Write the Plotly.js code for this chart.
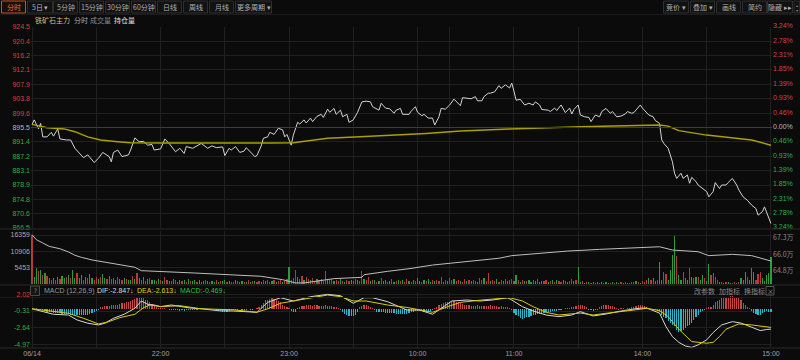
<!DOCTYPE html>
<html><head><meta charset="utf-8">
<script src="https://cdn.plot.ly/plotly-3.0.1.min.js"></script>
<style>html,body{margin:0;padding:0;background:#0b0b0b;}#chart{width:800px;height:360px;}</style>
</head><body><div id="chart"></div>
<script>
// ---------- data ----------
const prevSettle = 895.5;
const priceTicks = [924.5,920.4,916.2,912.1,907.9,903.8,899.6,895.5,891.4,887.2,883.1,878.9,874.8,870.6,866.5];
const pctTicks = ['3.24%','2.78%','2.31%','1.85%','1.39%','0.93%','0.46%','0.00%','0.46%','0.93%','1.39%','1.85%','2.31%','2.78%','3.24%'];
const timeTickMin = [0,30,60,90,120,150,180,195,225,255,285,315,345];
const timeTickText = ['06/14','','22:00','','23:00','','10:00','','11:00','','14:00','','15:00'];

const priceMin = [0,1,3,4,5,7,9,10,12,13,16,18,20,22,24,26,29,31,33,36,37,38,40,42,45,46,48,50,52,54,56,57,60,62,64,67,69,71,72,75,77,79,82,84,86,89,90,92,93,95,97,99,100,102,104,105,107,108,110,111,113,115,117,118,119,121,122,124,125,127,128,130,131,133,135,136,138,139,141,142,144,145,147,148,150,152,154,156,158,159,162,163,165,167,169,170,172,173,176,177,179,180,182,183,185,187,188,190,191,193,195,197,198,200,201,203,205,207,208,210,211,213,214,216,218,219,221,223,224,225,226,228,229,230,232,234,235,237,238,241,242,244,245,247,249,251,252,253,255,256,258,260,261,263,265,266,268,270,271,273,275,277,278,280,281,282,284,285,287,288,290,291,293,294,295,297,298,299,300,301,303,304,306,307,308,310,311,313,315,316,318,319,321,322,324,325,327,329,330,332,334,336,338,339,341,342,344,345];
const price = [896.4,897.7,895.1,896.7,892.8,892.8,894.1,893.0,895.1,892.2,891.9,891.9,889.5,888.0,886.8,887.6,885.4,886.6,888.3,887.1,885.6,888.3,889.0,887.1,887.6,889.0,892.5,891.4,891.5,890.4,890.6,889.0,889.3,892.2,890.9,888.5,889.5,888.0,890.0,889.5,890.2,890.9,889.5,890.2,889.7,889.9,887.4,889.5,889.0,890.0,888.3,888.7,889.7,888.5,887.1,887.4,890.2,892.4,892.8,894.1,893.5,895.3,894.8,892.8,893.5,890.4,893.3,897.0,896.5,897.7,896.8,898.2,897.2,898.7,899.3,898.4,900.8,899.9,901.0,899.3,900.5,898.6,899.3,897.0,897.7,899.9,902.9,903.1,902.9,901.5,900.5,902.5,901.1,900.9,899.6,900.5,901.0,899.3,899.3,900.2,901.5,899.9,898.9,899.3,898.2,898.2,896.2,898.6,901.0,900.8,902.0,903.7,903.0,901.8,904.1,903.9,903.8,904.4,903.2,903.2,904.4,905.4,905.4,905.8,907.6,906.8,907.8,906.9,908.3,906.0,903.4,903.6,902.9,902.0,902.5,902.0,902.9,902.0,900.7,900.5,900.1,901.1,900.4,902.0,899.8,901.1,899.4,900.7,902.0,899.1,898.6,898.4,897.2,899.1,898.6,900.1,901.0,899.6,900.1,898.6,898.8,899.4,900.1,899.6,899.8,900.5,902.0,901.1,899.6,899.1,898.6,897.5,896.7,891.9,890.9,889.5,887.6,885.6,882.3,880.8,882.3,880.8,881.8,879.4,881.1,879.9,878.9,877.9,877.0,875.5,877.0,879.6,877.9,878.9,878.9,879.6,880.8,878.9,877.5,875.5,874.5,873.1,872.1,870.2,871.2,872.6,869.7,867.8];

const avgMin = [0,7,15,20,26,32,40,46,62,100,105,111,122,138,153,169,184,200,218,223,256,293,297,302,315,327,336,345];
const avgPrice = [896.4,895.4,895.1,894.3,892.8,891.9,891.4,891.1,891.0,891.0,890.8,891.0,891.1,892.4,892.8,893.3,893.8,894.5,895.0,895.1,895.7,896.2,895.9,894.6,893.3,892.4,891.9,890.4];

const volume = [16359,2500,5340,4230,4790,3100,3670,2560,2000,1450,
2000,1200,2300,1700,2800,1900,2500,3100,2000,4800,
2000,3700,2000,3100,1500,2500,2000,3300,2100,1500,
2300,1700,2200,3400,1900,1600,2800,1800,2000,1500,
2500,1800,1300,2000,1700,1500,1200,2600,1700,3800,
2000,1300,2500,1000,1600,1900,1200,1400,900,1700,
1300,1000,2400,1500,1100,900,1600,1200,800,1400,
1000,1300,700,1800,900,1100,1500,800,1200,700,
1000,1400,900,600,1100,800,1300,700,900,1000,
1500,700,1100,800,600,1200,900,700,1000,600,
800,1300,700,900,1100,600,1000,800,1500,900,
1200,700,900,1400,800,1000,1300,700,1100,1600,
5800,1500,2000,4600,2500,1800,2800,1500,2200,1800,
1300,2000,1000,1600,1200,1800,1100,4300,1500,1200,
1800,1000,1400,900,1600,1100,800,1300,1000,1500,
900,1700,1200,1000,4300,1600,1300,2200,900,1200,
1400,800,1100,2000,900,1300,700,1000,1800,800,
1100,1500,900,1200,700,1600,1000,800,1300,900,
1900,1100,800,1400,1000,1700,700,1200,900,1500,
1000,2200,800,1300,1100,2000,1200,1600,900,1400,
1100,800,1700,1000,1300,900,1500,1100,800,1900,
1200,1900,1000,3600,900,1300,1100,1700,800,1400,
1000,1600,900,1200,1800,1000,3000,1300,800,1500,
1100,900,1400,700,1200,1000,1600,800,1100,900,
1300,700,1000,1500,800,1200,900,700,1400,1000,
800,1100,1800,900,1200,5800,700,900,500,800,
600,400,700,500,800,450,600,350,700,500,
400,650,500,750,350,600,450,800,500,400,
700,550,900,600,450,1100,700,1500,1900,1200,
1900,900,1200,7250,1500,4100,3200,1300,4700,9700,
16000,9450,3000,1500,4100,2000,1200,5200,2500,2000,
2500,2300,1200,3000,1900,1000,6600,3000,3700,2500,
1200,800,600,500,700,600,400,500,600,450,
700,1900,1200,4100,2500,1500,5200,4100,1500,3200,
4100,1900,1000,3000,3600,9100];
const volSide = ("rggrgrgrgr"+"grgrggrgrg"+"grggrgrggr"+"rgrggrgrgg"+"rgrgrggrgr"+"grgrgrggrg"+"rgrrgrgrgg"+"rgrgrggrgr"+"grgrggrgrg"+"grgrrgrggr"+
"grgrgrrgrg"+"rrgrgrrgrr"+"grrrgrrgrr"+"grrgrgrrgr"+"rgrrgrgrrg"+"grgrrgrrgr"+"grgrggrgrg"+"rgrgrrgrgr"+"ggrgrggrgr"+"rrgrgrrgrr"+
"grrgrgrrgr"+"rgrrgrrgrr"+"grgrrggrgr"+"grggrgrggr"+"rgrgrgrrgr"+"grrgrggrgr"+"grgrgrgrgg"+"rgrgrrgrgr"+"rrgrgrrrgr"+"ggrggrrggg"+
"grggrggrgr"+"grggrggrrr"+"rgrgrggrrg"+"rgggrgggrr"+"rggggg").split('');

const oiMin = [0,2,5,8,13,17,20,23,28,34,42,48,51,61,76,92,107,117,123,127,135,141,154,155,166,176,187,218,224,250,265,280,293,299,311,316,327,336,341,345];
const openInterest = [67.32,66.94,66.69,66.43,66.25,66.0,65.75,65.59,65.39,65.23,65.03,64.83,64.57,64.52,64.39,64.26,64.14,63.88,63.63,63.63,63.80,63.96,64.06,64.26,64.52,64.72,65.0,65.52,65.72,66.07,66.2,66.28,66.40,66.15,66.02,65.72,65.82,65.72,65.52,65.31];
const volTicks = [5453,10906,16359];
const oiTicks = [64.8,66.0,67.3];

const difMin = [0,7,10,17,21,26,31,34,38,43,48,51,54,57,60,65,69,74,79,88,94,105,110,116,122,130,138,144,150,155,159,166,175,181,187,192,196,203,209,215,222,224,229,234,240,246,252,256,262,268,276,284,287,293,296,299,302,305,308,311,315,318,322,327,331,336,340,343,345];
const dif = [0,-0.49,-0.77,-0.87,-1.56,-2.02,-2.26,-2.02,-1.33,-0.77,0.07,1.09,0.63,0.53,0.3,0.53,0.3,0.1,0,-0.3,-0.31,-0.49,0.9,1.55,1.09,1.69,2.02,1.83,0.77,1.55,1.55,0.99,-0.17,-0.17,-0.77,0.29,1.09,1.23,1.09,1.23,1.55,1.23,0.29,-0.31,-0.87,-1.1,-0.87,-0.4,-1.0,-0.73,-0.26,0.1,0.1,-0.6,-2.5,-3.9,-4.7,-5.2,-5.4,-5.05,-4.35,-3.33,-2.26,-1.8,-2.0,-2.58,-3.05,-2.9,-2.85];
const deaMin = [0,9,17,24,31,35,41,48,52,55,60,69,79,94,105,110,116,122,130,138,144,150,156,166,175,187,194,200,210,223,229,234,240,246,256,262,268,276,284,287,293,297,302,308,315,318,321,324,330,336,343,345];
const dea = [0,-0.31,-0.63,-1.33,-2.12,-1.88,-1.24,-0.77,0.15,0.53,0.3,0.43,0,-0.14,-0.49,0,0.77,1.09,1.55,1.93,1.7,1.09,1.09,0.53,0.19,-0.49,0.29,0.9,1.23,1.55,1.09,0.29,-0.49,-0.87,-0.6,-0.87,-0.63,-0.4,-0.07,0.07,-0.26,-1.1,-2.86,-4.59,-4.82,-4.7,-3.89,-2.86,-2.12,-2.26,-2.58,-2.61];
const macdHist = [0,-0.05,0.05,-0.08,-0.1,-0.15,-0.3,-0.38,-0.45,-0.5,
-0.55,-0.58,-0.6,-0.65,-0.7,-0.72,-0.75,-0.78,-0.8,-0.82,
-0.85,-0.88,-0.9,-0.88,-0.85,-0.83,-0.8,-0.7,-0.6,-0.45,
-0.3,-0.1,0.2,0.28,0.35,0.4,0.45,0.5,0.55,0.58,
0.6,0.68,0.75,0.82,0.9,1.0,1.1,1.2,1.35,1.45,
1.55,1.5,1.45,1.3,1.2,0.95,0.7,0.5,0.25,0.1,
0.15,0.1,0.05,-0.05,-0.1,-0.15,-0.2,-0.18,-0.22,-0.25,
-0.2,-0.25,-0.22,-0.18,-0.2,-0.15,-0.12,-0.1,-0.08,-0.05,
-0.05,0.03,-0.04,-0.05,-0.06,-0.05,-0.1,-0.2,-0.35,-0.45,
-0.45,-0.4,-0.3,-0.15,-0.1,-0.12,-0.1,-0.08,-0.1,-0.12,
-0.1,-0.08,-0.1,-0.12,-0.05,0.05,0.3,0.55,0.8,1.2,
1.3,1.4,1.5,1.35,1.2,1.05,0.9,0.55,0.4,0.25,
0.05,-0.3,-0.45,-0.4,0.1,0.3,0.4,0.45,0.5,0.55,
0.5,0.45,0.5,0.55,0.45,0.4,0.45,0.5,0.4,0.35,
0.4,0.3,0.2,0.1,-0.2,-0.5,-0.7,-0.85,-0.95,-1.05,
-0.95,-0.85,-0.5,0.2,0.45,0.55,0.5,0.45,0.3,0.1,
-0.2,-0.4,-0.45,-0.5,-0.45,-0.55,-0.6,-0.55,-0.6,-0.65,
-0.7,-0.75,-0.7,-0.72,-0.75,-0.7,-0.6,-0.5,-0.4,-0.3,
-0.25,-0.3,-0.35,-0.4,-0.45,-0.4,-0.3,-0.15,0.1,0.3,
0.5,0.7,0.8,0.9,0.95,1.0,1.05,1.1,1.0,0.9,
0.8,0.7,0.6,0.55,0.5,0.45,0.4,0.45,0.5,0.45,
0.4,0.35,0.4,0.45,0.5,0.45,0.4,0.35,0.3,0.35,
0.3,0.25,0.2,0.1,-0.2,-0.6,-0.85,-1.05,-1.25,-1.4,
-1.3,-1.2,-1.1,-1.0,-0.9,-0.8,-0.75,-0.7,-0.6,-0.55,
-0.5,-0.45,-0.4,-0.35,-0.3,-0.25,-0.2,-0.1,-0.05,0.1,
0.15,0.1,0.2,0.3,0.4,0.55,0.55,0.5,0.45,0.3,
-0.1,-0.2,-0.25,-0.2,-0.1,0.2,0.4,0.5,0.55,0.5,
0.45,0.4,0.3,0.1,-0.1,0.05,0.1,-0.05,0.1,0.15,
0.2,0.3,0.4,0.5,0.55,0.5,0.4,0.2,0.05,-0.05,
-0.1,-0.2,-0.3,-0.5,-0.84,-1.1,-1.3,-1.77,-2.0,-2.2,
-2.47,-2.9,-3.3,-3.1,-3.0,-2.7,-2.47,-2.2,-2.0,-1.53,
-1.2,-0.84,-0.5,-0.25,-0.1,0.1,0.2,0.25,0.6,1.0,
1.15,1.3,1.5,1.55,1.6,1.7,1.75,1.8,1.7,1.6,
1.5,1.2,0.8,0.5,0.2,0.05,-0.3,-0.6,-0.75,-0.84,
-0.8,-0.6,-0.45,-0.37,-0.4,-0.47];
const macdTicks = [2.02,-0.31,-2.64,-4.97];

// ---------- helpers ----------
const W = 800, H = 360, L = 31, R = 28;
const PX = px => (px - L) / (W - L - R);
const PY = py => 1 - py / H;
const RED = '#d8403c', GRN = '#2fae45', GRAY = '#b8b8b8';
const span = (t, c) => '<span style="color:' + c + '">' + t + '</span>';
const priceColor = v => v > prevSettle ? RED : (v < prevSettle ? GRN : GRAY);
const minutes = volume.map((_, i) => i);

const traces = [
  {x: priceMin, y: price, type: 'scatter', mode: 'lines', xaxis: 'x', yaxis: 'y',
   line: {color: '#d4d4d4', width: 1}, hoverinfo: 'skip'},
  {x: avgMin, y: avgPrice, type: 'scatter', mode: 'lines', xaxis: 'x', yaxis: 'y',
   line: {color: '#aba000', width: 1.5}, hoverinfo: 'skip'},
  {x: avgMin, y: avgPrice, type: 'scatter', mode: 'lines', xaxis: 'x', yaxis: 'y4',
   line: {color: 'rgba(0,0,0,0)', width: 0}, hoverinfo: 'skip'},
  {x: minutes, y: volume, type: 'bar', xaxis: 'x', yaxis: 'y2', width: 0.55,
   marker: {color: volSide.map(s => s === 'r' ? '#b53a3a' : '#2a9c3c'), line: {width: 0}}, hoverinfo: 'skip'},
  {x: oiMin, y: openInterest, type: 'scatter', mode: 'lines', xaxis: 'x', yaxis: 'y5',
   line: {color: '#bdbdbd', width: 1}, hoverinfo: 'skip'},
  {x: minutes, y: macdHist, type: 'bar', xaxis: 'x', yaxis: 'y3', width: 0.55,
   marker: {color: macdHist.map(v => v >= 0 ? '#c44646' : '#26b6c6'), line: {width: 0}}, hoverinfo: 'skip'},
  {x: difMin, y: dif, type: 'scatter', mode: 'lines', xaxis: 'x', yaxis: 'y3',
   line: {color: '#d6d6d6', width: 1}, hoverinfo: 'skip'},
  {x: deaMin, y: dea, type: 'scatter', mode: 'lines', xaxis: 'x', yaxis: 'y3',
   line: {color: '#d8cc10', width: 1}, hoverinfo: 'skip'}
];

const GRID = '#202020';
const tickFont = {size: 7, color: '#999', family: 'Liberation Sans, Arial, sans-serif'};
const volTop = 231, volBase = 284;
const layout = {
  width: W, height: H, showlegend: false,
  paper_bgcolor: '#0b0b0b', plot_bgcolor: '#0b0b0b',
  margin: {l: L, r: R, t: 0, b: 0, pad: 0},
  font: {family: 'Noto Sans CJK SC, Liberation Sans, sans-serif', size: 7, color: '#999'},
  bargap: 0,
  xaxis: {range: [-0.5, 345.5], anchor: 'y3', tickvals: timeTickMin, ticktext: timeTickText,
    showgrid: true, gridcolor: GRID, gridwidth: 1, zeroline: false, showline: false, ticks: '',
    tickfont: {size: 7, color: '#a0a0a0', family: 'Liberation Sans, Arial, sans-serif'}, fixedrange: true},
  yaxis: {domain: [PY(228), PY(27)], range: [866.5, 924.5], tickvals: priceTicks,
    ticktext: priceTicks.map(v => span(v.toFixed(1), priceColor(v))),
    gridcolor: GRID, zeroline: false, ticks: '', tickfont: tickFont, anchor: 'x', ticklabelshift: -0.5},
  yaxis4: {overlaying: 'y', side: 'right', range: [866.5, 924.5], tickvals: priceTicks,
    ticktext: priceTicks.map((v, i) => span(pctTicks[i], priceColor(v))),
    showgrid: false, zeroline: false, ticks: '', tickfont: tickFont, anchor: 'x', ticklabelshift: -1},
  yaxis2: {domain: [PY(volBase), PY(volTop)], range: [0, 16359 * (volBase - volTop) / (volBase - 235)],
    tickvals: volTicks, ticktext: volTicks.map(String), gridcolor: GRID, zeroline: false, ticks: '',
    tickfont: {size: 7, color: '#aaa', family: 'Liberation Sans, Arial, sans-serif'}, anchor: 'x', ticklabelshift: 2.5},
  yaxis5: {overlaying: 'y2', side: 'right', range: [63.55, 67.3 + (235 - volTop) * 3.75 / (volBase - 235)],
    tickvals: oiTicks, ticktext: oiTicks.map(v => v.toFixed(1) + '万'), showgrid: false, zeroline: false,
    ticks: '', tickfont: {size: 7, color: '#888'}, anchor: 'x', ticklabelshift: 3},
  yaxis3: {domain: [PY(348), PY(292)], range: [-5.49, 2.35], tickvals: macdTicks,
    ticktext: macdTicks.map(v => span(v.toFixed(2), v > 0 ? RED : GRN)),
    gridcolor: GRID, zeroline: false, ticks: '', tickfont: tickFont, anchor: 'x'},
  shapes: [],
  annotations: []
};

// baseline (prev settle) line
layout.shapes.push({type: 'line', xref: 'paper', x0: 0, x1: 1, yref: 'y', y0: prevSettle, y1: prevSettle,
  line: {color: '#3c3c3c', width: 1}});
// separators
[[229, '#2a2a2a'], [285, '#2a2a2a'], [297.5, '#1c1c1c'], [348, '#2a2a2a']].forEach(([y, c]) => {
  layout.shapes.push({type: 'line', xref: 'paper', yref: 'paper', x0: PX(0), x1: PX(800), y0: PY(y), y1: PY(y),
    line: {color: c, width: 1}});
});
layout.shapes.push({type: 'line', xref: 'paper', yref: 'paper', x0: PX(0), x1: PX(800), y0: PY(14.5), y1: PY(14.5),
  line: {color: '#1c1c1c', width: 1}});

// toolbar buttons
const btnFont = {size: 7, color: '#b0b0b0', family: 'Noto Sans CJK SC, sans-serif'};
const leftBtns = [[1,26,'分时'],[27,53,'5日 ▾'],[53,78,'5分钟'],[79,104,'15分钟'],[105,130,'30分钟'],[131,156,'60分钟'],[157,182,'日线'],[183,208,'周线'],[209,234,'月线'],[235,272,'更多周期 ▾']];
const rightBtns = [[663,689,'竞价 ▾'],[690,715,'叠加 ▾'],[716,741,'画线'],[742,767,'简约'],[767,793,'隐藏 ▸▸']];
leftBtns.concat(rightBtns).forEach(([x0, x1, t], i) => {
  const sel = (i === 0);
  layout.shapes.push({type: 'rect', xref: 'paper', yref: 'paper', x0: PX(x0 + 0.5), x1: PX(x1 - 0.5), y0: PY(13), y1: PY(1),
    line: {color: sel ? '#c8561c' : '#2e2e2e', width: 1}, fillcolor: sel ? '#1a0f08' : '#121212'});
  layout.annotations.push({xref: 'paper', yref: 'paper', x: PX((x0 + x1) / 2), y: PY(7), text: t, showarrow: false,
    xanchor: 'center', yanchor: 'middle', font: Object.assign({}, btnFont, sel ? {color: '#e07a34'} : {})});
});
// scroll arrows box
layout.shapes.push({type: 'rect', xref: 'paper', yref: 'paper', x0: PX(794), x1: PX(799.5), y0: PY(13), y1: PY(1),
  line: {color: '#2e2e2e', width: 1}, fillcolor: '#121212'});
layout.annotations.push({xref: 'paper', yref: 'paper', x: PX(796.8), y: PY(7), text: '▴<br>▾', showarrow: false,
  xanchor: 'center', yanchor: 'middle', font: {size: 4, color: '#888'}});

// title row
const titleRow = [[33, '铁矿石主力', '#cfc27a'], [72, '分时', '#aaaaaa'], [88, '成交量', '#8a8a8a'], [112, '持仓量', '#e0e0e0']];
titleRow.forEach(([x, t, c]) => layout.annotations.push({xref: 'paper', yref: 'paper', x: PX(x), y: PY(19.5), text: t,
  showarrow: false, xanchor: 'left', yanchor: 'middle', font: {size: 7, color: c, family: 'Noto Sans CJK SC, sans-serif'}}));

// MACD header row
layout.shapes.push({type: 'rect', xref: 'paper', yref: 'paper', x0: PX(30.5), x1: PX(39.5), y0: PY(295.5), y1: PY(286),
  line: {color: '#4a4a4a', width: 1}, fillcolor: '#151515'});
layout.annotations.push({xref: 'paper', yref: 'paper', x: PX(35), y: PY(290.5), text: '?', showarrow: false,
  xanchor: 'center', yanchor: 'middle', font: {size: 6, color: '#999'}});
const macdRow = [[42, 'MACD (12,26,9)', '#9a9a9a'], [95, 'DIF:-2.847↓', '#dddddd'], [135, 'DEA:-2.613↓', '#e2d200'], [178, 'MACD:-0.469↓', '#2fbf45']];
macdRow.forEach(([x, t, c]) => layout.annotations.push({xref: 'paper', yref: 'paper', x: PX(x), y: PY(290.5), text: t,
  showarrow: false, xanchor: 'left', yanchor: 'middle', font: {size: 7, color: c, family: 'Liberation Sans, Arial, sans-serif'}}));
const macdRight = [[692, '改参数'], [717, '加指标'], [742, '换指标']];
macdRight.forEach(([x, t]) => layout.annotations.push({xref: 'paper', yref: 'paper', x: PX(x), y: PY(290.5), text: t,
  showarrow: false, xanchor: 'left', yanchor: 'middle', font: {size: 7, color: '#8a8a8a', family: 'Noto Sans CJK SC, sans-serif'}}));
layout.shapes.push({type: 'rect', xref: 'paper', yref: 'paper', x0: PX(766), x1: PX(774), y0: PY(295), y1: PY(286.5),
  line: {color: '#555', width: 1}, fillcolor: 'rgba(0,0,0,0)'});
layout.annotations.push({xref: 'paper', yref: 'paper', x: PX(770), y: PY(290.8), text: '×', showarrow: false,
  xanchor: 'center', yanchor: 'middle', font: {size: 7, color: '#999'}});

Plotly.newPlot('chart', traces, layout, {staticPlot: true, displayModeBar: false});
</script>
</body></html>
